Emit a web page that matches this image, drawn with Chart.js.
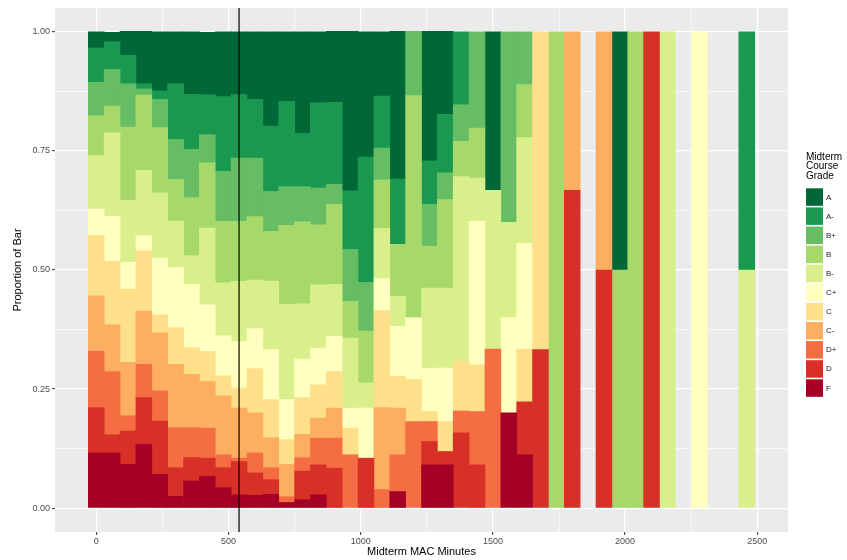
<!DOCTYPE html>
<html>
<head>
<meta charset="utf-8">
<script src="https://cdn.jsdelivr.net/npm/chart.js@4/dist/chart.umd.min.js"></script>
<style>
  body { margin: 0; background: #fff; }
  #wrap { width: 847px; height: 560px; position: relative; }
</style>
</head>
<body>
<div id="wrap"><canvas id="gradeChart"></canvas></div>
<script>
// bin centres (midterm MAC minutes), one bar per bin
const binMinutes = [
  0, 60, 120, 180, 240, 300, 360, 420, 480, 540,
  600, 660, 720, 780, 840, 900, 960, 1020, 1080, 1140,
  1200, 1260, 1320, 1380, 1440, 1500, 1560, 1620, 1680, 1740,
  1800, 1860, 1920, 1980, 2040, 2100, 2160, 2220, 2280, 2340, 2400, 2460
];

// proportion of each bar per midterm grade
const gradeA = [
  .034, .020, .050, .110, .124, .109, .131, .131, .136, .132,
  .142, .198, .146, .213, .149, .149, .335, .263, .135, .310,
  0, .272, .174, 0, 0, .333, 0, 0, 0, 0,
  0, 0, 0, .5, 0, 0, 0, 0, 0, 0, 0, 0
];
const gradeAminus = [
  .072, .058, .060, .011, .018, .117, .116, .084, .157, .133,
  .123, .137, .179, .112, .179, .172, .123, .263, .109, .137,
  0, .091, .123, .153, 0, 0, 0, 0, 0, 0,
  0, 0, 0, 0, 0, 0, 0, 0, 0, 0, 0, .5
];
const gradeBplus = [
  .070, .077, .091, .013, .059, .084, .101, .059, .105, .133,
  .123, .084, .081, .074, .077, .042, .109, .102, .067, 0,
  .135, .088, .056, .077, .202, 0, .4, .111, 0, 0,
  0, 0, 0, 0, 0, 0, 0, 0, 0, 0, 0, 0
];
const gradeB = [
  .084, .056, .154, .158, .137, .087, .122, .137, .129, .126,
  .133, .104, .166, .172, .126, .168, .077, .109, .102, .109,
  .466, .088, .186, .074, .105, 0, 0, .111, 0, 1,
  0, 0, 0, .5, 1, 0, 0, 0, 0, 0, 0, 0
];
const gradeBminus = [
  .112, .175, .130, .137, .137, .098, .060, .161, .111, .126,
  .102, .144, .200, .116, .133, .109, .147, .053, .105, .063,
  0, .168, .168, .387, .091, .333, .2, .222, 0, 0,
  0, 0, 0, 0, 0, 0, 1, 0, 0, 0, 0, .5
];
const gradeCplus = [
  .056, .095, .056, .032, .119, .126, .133, .098, .084, .098,
  .084, .105, .084, .081, .077, .074, .042, .105, .067, .105,
  .130, .091, .112, 0, .301, 0, .2, .222, 0, 0,
  0, 0, 0, 0, 0, 0, 0, 0, 1, 0, 0, 0
];
const gradeC = [
  .126, .133, .154, .126, .038, .077, .056, .063, .042, .042,
  .093, .080, .052, .077, .070, .077, .056, 0, .204, .067,
  .088, .021, .063, .105, .098, 0, 0, .111, .667, 0,
  0, 0, 0, 0, 0, 0, 0, 0, 0, 0, 0, 0
];
const gradeCminus = [
  .116, .098, .112, .112, .122, .133, .112, .098, .124, .105,
  .084, .063, .068, .049, .042, .063, 0, 0, .172, .098,
  0, 0, 0, 0, 0, 0, 0, 0, 0, 0,
  .333, 0, .5, 0, 0, 0, 0, 0, 0, 0, 0, 0
];
const gradeDplus = [
  .119, .133, .032, .070, .063, .084, .063, .063, .027, .007,
  .042, .025, .012, .028, .056, .063, .112, 0, .039, .077,
  .182, .042, 0, .046, .112, .334, 0, 0, 0, 0,
  0, 0, 0, 0, 0, 0, 0, 0, 0, 0, 0, 0
];
const gradeD = [
  .095, .038, .070, .098, .112, .060, .049, .038, .042, .070,
  .047, .031, 0, .060, .063, .084, 0, .105, 0, 0,
  0, .049, .028, .158, .091, 0, 0, .111, .333, 0,
  .667, 0, .5, 0, 0, 1, 0, 0, 0, 0, 0, 0
];
const gradeF = [
  .116, .116, .092, .134, .071, .025, .057, .067, .043, .028,
  .027, .029, .012, .018, .028, 0, 0, 0, 0, .035,
  0, .091, .091, 0, 0, 0, .2, .112, 0, 0,
  0, 0, 0, 0, 0, 0, 0, 0, 0, 0, 0, 0
];

const gradeNames = ['A', 'A-', 'B+', 'B', 'B-', 'C+', 'C', 'C-', 'D+', 'D', 'F'];
const gradeSeries = [gradeA, gradeAminus, gradeBplus, gradeB, gradeBminus, gradeCplus,
                     gradeC, gradeCminus, gradeDplus, gradeD, gradeF];
const gradeColors = ['#006837', '#1A9850', '#66BD63', '#A6D96A', '#D9EF8B', '#FFFFBF',
                     '#FEE08B', '#FDAE61', '#F46D43', '#D73027', '#A50026'];
const xTicks = [0, 500, 1000, 1500, 2000, 2500];
const cutoffMinutes = 540;

const FONT = '"Liberation Sans", Arial, sans-serif';
Chart.defaults.font.family = FONT;

// F goes at the bottom of the stack, A on top; empty cells are left out
const datasets = [];
for (let g = gradeNames.length - 1; g >= 0; g--) {
    datasets.push({
        label: gradeNames[g],
        data: binMinutes.map((m, i) => ({ x: m, y: gradeSeries[g][i] === 0 ? null : gradeSeries[g][i] })),
        backgroundColor: gradeColors[g],
        borderWidth: 0,
        barPercentage: 1,
        categoryPercentage: 1,
        grouped: false
    });
}

const isQuarter = (v) => Math.abs(v * 4 - Math.round(v * 4)) < 1e-6;

const panelBackground = {
    id: 'panelBackground',
    beforeDraw(chart) {
        const { ctx, chartArea: a } = chart;
        ctx.save();
        ctx.fillStyle = '#EBEBEB';
        ctx.fillRect(a.left, a.top, a.right - a.left, a.bottom - a.top);
        ctx.restore();
    }
};

const cutoffLine = {
    id: 'cutoffLine',
    afterDatasetsDraw(chart) {
        const { ctx, chartArea: a, scales } = chart;
        const x = scales.x.getPixelForValue(cutoffMinutes);
        ctx.save();
        ctx.strokeStyle = '#000';
        ctx.lineWidth = 1.2;
        ctx.beginPath();
        ctx.moveTo(x, a.top);
        ctx.lineTo(x, a.bottom);
        ctx.stroke();
        ctx.restore();
    }
};

const gradeLegend = {
    id: 'gradeLegend',
    afterDraw(chart) {
        const ctx = chart.ctx;
        ctx.save();
        ctx.fillStyle = '#000';
        ctx.font = '10px ' + FONT;
        ctx.textBaseline = 'alphabetic';
        ['Midterm', 'Course', 'Grade'].forEach((t, i) => ctx.fillText(t, 806, 160 + i * 9.3));
        gradeNames.forEach((g, i) => {
            const y = 188.3 + i * 19.1;
            ctx.fillStyle = gradeColors[i];
            ctx.fillRect(806, y, 17, 17.5);
            ctx.fillStyle = '#1a1a1a';
            ctx.font = '8px ' + FONT;
            ctx.textBaseline = 'middle';
            ctx.fillText(g, 826, y + 9);
        });
        ctx.restore();
    }
};

new Chart(document.getElementById('gradeChart').getContext('2d'), {
    type: 'bar',
    data: { datasets: datasets },
    options: {
        responsive: true,
        maintainAspectRatio: false,
        animation: false,
        layout: { padding: { left: 0, right: 59, top: 8, bottom: 0 } },
        plugins: { legend: { display: false }, tooltip: { enabled: false } },
        scales: {
            x: {
                type: 'linear',
                offset: false,
                min: -156,
                max: 2616,
                afterFit: (s) => { s.height = 28; },
                afterBuildTicks: (s) => {
                    const t = [];
                    for (let v = 0; v <= 2500; v += 250) t.push({ value: v });
                    s.ticks = t;
                },
                border: { display: false },
                grid: {
                    offset: false,
                    color: '#FFFFFF',
                    lineWidth: (c) => (c.tick && xTicks.includes(c.tick.value) ? 1.3 : 0.6),
                    tickColor: (c) => (c.tick && xTicks.includes(c.tick.value) ? '#333333' : 'rgba(0,0,0,0)'),
                    tickLength: 3,
                    tickWidth: 1
                },
                ticks: {
                    autoSkip: false,
                    maxRotation: 0,
                    padding: 1,
                    color: '#4D4D4D',
                    font: { size: 9 },
                    callback: (v) => (xTicks.includes(v) ? String(v) : '')
                },
                title: {
                    display: true,
                    text: 'Midterm MAC Minutes',
                    color: '#000',
                    font: { size: 11 },
                    padding: { top: 0, bottom: 1 }
                }
            },
            y: {
                stacked: true,
                min: -0.05,
                max: 1.05,
                afterFit: (s) => { s.width = 55; },
                afterBuildTicks: (s) => {
                    const t = [];
                    for (let k = 0; k <= 8; k++) t.push({ value: k * 0.125 });
                    s.ticks = t;
                },
                border: { display: false },
                grid: {
                    color: '#FFFFFF',
                    lineWidth: (c) => (c.tick && isQuarter(c.tick.value) ? 1.3 : 0.6),
                    tickColor: (c) => (c.tick && isQuarter(c.tick.value) ? '#333333' : 'rgba(0,0,0,0)'),
                    tickLength: 3,
                    tickWidth: 1
                },
                ticks: {
                    autoSkip: false,
                    padding: 2,
                    color: '#4D4D4D',
                    font: { size: 9 },
                    callback: (v) => (isQuarter(v) ? v.toFixed(2) : '')
                },
                title: {
                    display: true,
                    text: 'Proportion of Bar',
                    color: '#000',
                    font: { size: 11 },
                    padding: { top: 11, bottom: 0 }
                }
            }
        }
    },
    plugins: [panelBackground, cutoffLine, gradeLegend]
});
</script>
</body>
</html>
